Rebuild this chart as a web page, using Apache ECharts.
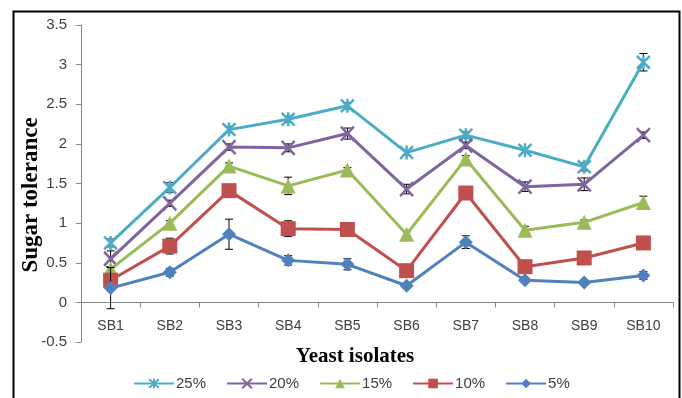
<!DOCTYPE html>
<html>
<head>
<meta charset="utf-8">
<script src="https://cdn.jsdelivr.net/npm/echarts@6/dist/echarts.min.js"></script>
<style>
html,body{margin:0;padding:0;background:#fff;}
#chart{width:682px;height:398px;}
</style>
</head>
<body>
<div id="chart"></div>
<script>
var categories = ['SB1','SB2','SB3','SB4','SB5','SB6','SB7','SB8','SB9','SB10'];
var seriesNames = ['25%','20%','15%','10%','5%'];
var v25 = [0.75,1.45,2.18,2.31,2.48,1.89,2.11,1.92,1.71,3.03];
var v20 = [0.55,1.25,1.96,1.95,2.13,1.43,1.98,1.46,1.49,2.11];
var v15 = [0.42,1.00,1.72,1.47,1.67,0.86,1.81,0.91,1.01,1.26];
var v10 = [0.28,0.71,1.41,0.93,0.92,0.40,1.38,0.45,0.56,0.75];
var v5  = [0.18,0.38,0.86,0.53,0.48,0.21,0.76,0.28,0.25,0.34];
var e25 = [0.05,0.06,0.04,0.04,0.04,0.03,0.04,0.03,0.05,0.11];
var e20 = [0.10,0.04,0.04,0.05,0.07,0.06,0.04,0.06,0.08,0.04];
var e15 = [0.03,0.03,0.04,0.11,0.03,0.03,0.04,0.05,0.03,0.08];
var e10 = [0.03,0.10,0.04,0.10,0.03,0.03,0.04,0.03,0.03,0.03];
var e5  = [0.26,0.05,0.19,0.06,0.07,0.03,0.08,0.03,0.03,0.05];
var yTicks = {min:-0.5, max:3.5, interval:0.5};

var colors = ['#4BACC6','#8064A2','#9BBB59','#C0504D','#4F81BD'];
var vals = [v25,v20,v15,v10,v5];
var errs = [e25,e20,e15,e10,e5];
var symbols = [
  'path://M1,1L19,19M1,19L19,1M10,0L10,20',
  'path://M1,1L19,19M1,19L19,1',
  'triangle','rect','diamond'
];
var symSizes = [[13,14],[13,14],15,15,14];

var series = [];
for (var i = 0; i < 5; i++) {
  var isPath = i < 2;
  series.push({
    name: seriesNames[i],
    type: 'line',
    data: vals[i],
    symbol: symbols[i],
    symbolSize: symSizes[i],
    showAllSymbol: true,
    z: 3 + i,
    lineStyle: {color: colors[i], width: 3},
    itemStyle: isPath ? {color: colors[i], borderColor: colors[i], borderWidth: 2.5} : {color: colors[i]}
  });
}
for (var j = 0; j < 5; j++) {
  (function(k){
    var d = vals[k].map(function(v, idx){ return [idx, v, errs[k][idx]]; });
    series.push({
      type: 'custom',
      name: 'err' + k,
      z: 3 + k,
      silent: true,
      data: d,
      renderItem: function(params, api) {
        var x = api.value(0), v = api.value(1), e = api.value(2);
        var top = api.coord([x, v + e]);
        var bot = api.coord([x, v - e]);
        var hw = 4;
        var st = {stroke: '#000', lineWidth: 1};
        return {type: 'group', children: [
          {type:'line', shape:{x1:top[0], y1:top[1], x2:bot[0], y2:bot[1]}, style: st},
          {type:'line', shape:{x1:top[0]-hw, y1:top[1], x2:top[0]+hw, y2:top[1]}, style: st},
          {type:'line', shape:{x1:bot[0]-hw, y1:bot[1], x2:bot[0]+hw, y2:bot[1]}, style: st}
        ]};
      }
    });
  })(j);
}

var tickFont = "'Liberation Sans',sans-serif";
var chart = echarts.init(document.getElementById('chart'), null, {renderer: 'canvas'});
chart.setOption({
  animation: false,
  backgroundColor: '#fff',
  grid: {left: 81, right: 9, top: 25, bottom: 56, containLabel: false},
  xAxis: {
    type: 'category',
    data: categories,
    boundaryGap: true,
    offset: -39.6,
    axisLine: {onZero: false, lineStyle: {color: '#868686', width: 1}},
    axisTick: {show: true, length: 5, lineStyle: {color: '#868686'}},
    axisLabel: {color: '#404040', fontSize: 14, fontFamily: tickFont, margin: 17},
    splitLine: {show: false}
  },
  yAxis: {
    type: 'value',
    min: yTicks.min, max: yTicks.max, interval: yTicks.interval,
    axisLine: {show: true, lineStyle: {color: '#868686', width: 1}},
    axisTick: {show: true, length: 5, lineStyle: {color: '#868686'}},
    axisLabel: {color: '#404040', fontSize: 15, fontFamily: tickFont, margin: 14},
    splitLine: {show: false}
  },
  legend: {
    data: seriesNames,
    left: 128, top: 371,
    itemWidth: 40, itemHeight: 12, itemGap: 20,
    textStyle: {color: '#404040', fontSize: 15, fontFamily: tickFont, padding: [0,0,0,-3]}
  },
  graphic: [
    {type: 'rect', left: 11, top: 9, z: 100, silent: true,
     shape: {width: 666, height: 420},
     style: {fill: 'none', stroke: '#000', lineWidth: 2}},
    {type: 'text', x: 31, y: 195, rotation: Math.PI/2, z: 100,
     style: {text: 'Sugar tolerance', font: "bold 23px 'Liberation Serif', serif", fill: '#000', align: 'center', verticalAlign: 'middle'}},
    {type: 'text', x: 355, y: 357, z: 100,
     style: {text: 'Yeast isolates', font: "bold 21px 'Liberation Serif', serif", fill: '#000', align: 'center', verticalAlign: 'middle'}}
  ],
  series: series
});
</script>
</body>
</html>
